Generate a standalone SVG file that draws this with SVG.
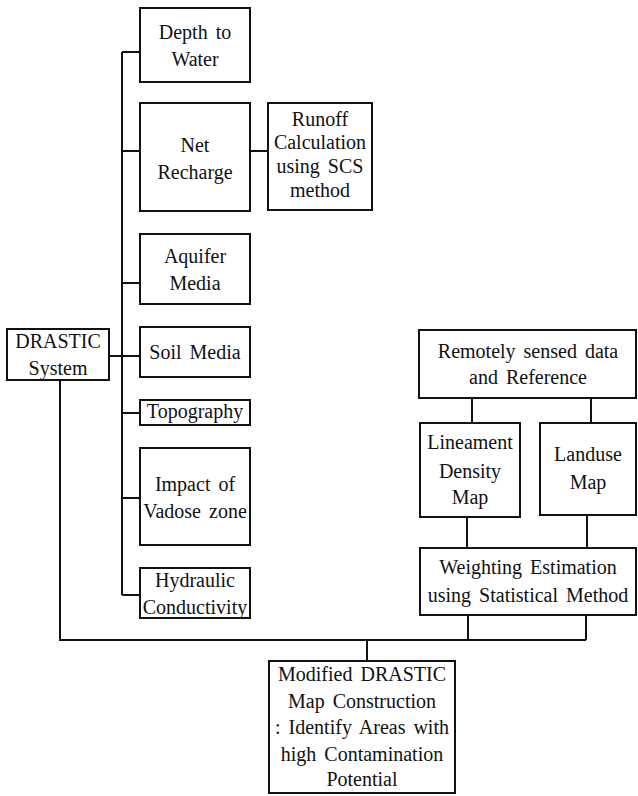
<svg xmlns="http://www.w3.org/2000/svg" width="638" height="796" viewBox="0 0 638 796">
<style>
.box{fill:#fff;stroke:#111;stroke-width:2}
.ln{fill:none;stroke:#111;stroke-width:2}
text{font-family:"Liberation Serif","Times New Roman",serif;font-size:20px;fill:#111;text-anchor:middle;word-spacing:3px}
</style>
<rect width="638" height="796" fill="#fff"/>
<g id="connectors">
<path class="ln" d="M122 52V595M122 52H140M122 151H140M122 283H140M122 356H140M122 413H140M122 498H140M122 595H140M109 356H122M250 151H268"/>
<path class="ln" d="M472 398V423M591 398V423M467 517V548M587 515V548M468 615V640M586 615V640M60 380V640H586M367 640V661"/>
</g>
<g id="drastic"><rect class="box" x="7" y="329" width="102" height="51"/><text x="58" y="348">DRASTIC</text><text x="58" y="375">System</text></g>
<g id="depth"><rect class="box" x="140" y="8" width="110" height="74"/><text x="195" y="39">Depth to</text><text x="195" y="66">Water</text></g>
<g id="net"><rect class="box" x="140" y="103" width="110" height="108"/><text x="195" y="152">Net</text><text x="195" y="179">Recharge</text></g>
<g id="runoff"><rect class="box" x="268" y="103" width="104" height="107"/><text x="320" y="126">Runoff</text><text x="320" y="149">Calculation</text><text x="320" y="173">using SCS</text><text x="320" y="197">method</text></g>
<g id="aquifer"><rect class="box" x="140" y="234" width="110" height="70"/><text x="195" y="263">Aquifer</text><text x="195" y="290">Media</text></g>
<g id="soil"><rect class="box" x="140" y="327" width="110" height="50"/><text x="195" y="359">Soil Media</text></g>
<g id="topo"><rect class="box" x="140" y="400" width="110" height="25"/><text x="195" y="418">Topography</text></g>
<g id="impact"><rect class="box" x="140" y="448" width="110" height="97"/><text x="195" y="491">Impact of</text><text x="195" y="518">Vadose zone</text></g>
<g id="hydraulic"><rect class="box" x="140" y="568" width="110" height="50"/><text x="195" y="587">Hydraulic</text><text x="195" y="614">Conductivity</text></g>
<g id="remote"><rect class="box" x="419" y="330" width="217" height="68"/><text x="528" y="358">Remotely sensed data</text><text x="528" y="384">and Reference</text></g>
<g id="lineament"><rect class="box" x="420" y="423" width="100" height="94"/><text x="470" y="449">Lineament</text><text x="470" y="478">Density</text><text x="470" y="504">Map</text></g>
<g id="landuse"><rect class="box" x="540" y="423" width="96" height="92"/><text x="588" y="461">Landuse</text><text x="588" y="489">Map</text></g>
<g id="weighting"><rect class="box" x="420" y="548" width="216" height="67"/><text x="528" y="574">Weighting Estimation</text><text x="528" y="602">using Statistical Method</text></g>
<g id="modified"><rect class="box" x="269" y="661" width="186" height="132"/><text x="362" y="681">Modified DRASTIC</text><text x="362" y="708">Map Construction</text><text x="362" y="734">: Identify Areas with</text><text x="362" y="761">high Contamination</text><text x="362" y="786">Potential</text></g>
</svg>
